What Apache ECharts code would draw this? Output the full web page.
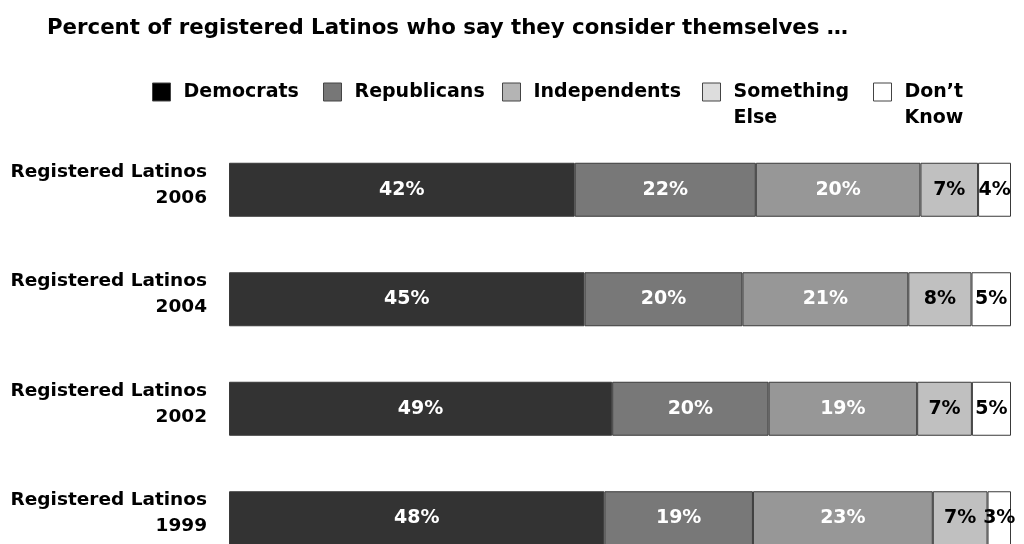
<!DOCTYPE html>
<html>
<head>
<meta charset="utf-8">
<script src="https://cdn.jsdelivr.net/npm/echarts@6/dist/echarts.min.js"></script>
<style>html,body{margin:0;padding:0;background:#fff;}#c{width:1024px;height:544px;}</style>
</head>
<body>
<div id="c"></div>
<script>
const titleText = 'Percent of registered Latinos who say they consider themselves …';
const categories = ['Registered Latinos\n2006', 'Registered Latinos\n2004', 'Registered Latinos\n2002', 'Registered Latinos\n1999'];
const seriesNames = ['Democrats', 'Republicans', 'Independents', 'Something Else', "Don't Know"];
const legendLabels = ['Democrats', 'Republicans', 'Independents', '\nSomething\nElse', '\nDon\u2019t\nKnow'];
const democrats = [42, 45, 49, 48];
const republicans = [22, 20, 20, 19];
const independents = [20, 21, 19, 23];
const somethingElse = [7, 8, 7, 7];
const dontKnow = [4, 5, 5, 3];

const raw = [democrats, republicans, independents, somethingElse, dontKnow];
const totals = categories.map((c, i) => raw.reduce((s, arr) => s + arr[i], 0));
const barColors = ['#333333', '#787878', '#979797', '#c0c0c0', '#ffffff'];
const legendColors = ['#000000', '#777777', '#b4b4b4', '#dddddd', '#ffffff'];
const labelColors = ['#ffffff', '#ffffff', '#ffffff', '#000000', '#000000'];
const legendLeft = [152, 323, 502, 702, 873];
const FONT = 'DejaVu Sans';

const chart = echarts.init(document.getElementById('c'));
chart.setOption({
  animation: false,
  backgroundColor: '#ffffff',
  title: {
    text: titleText,
    left: 47, top: 18, padding: 0,
    textStyle: { fontFamily: FONT, fontWeight: 'bold', fontSize: 21.3, color: '#000' }
  },
  legend: seriesNames.map((n, i) => ({
    left: legendLeft[i],
    top: legendLabels[i].indexOf('\n') >= 0 ? 53 : 79,
    padding: 0,
    itemWidth: 18, itemHeight: 18,
    icon: 'rect',
    selectedMode: false,
    formatter: function (name) { return legendLabels[seriesNames.indexOf(name)]; },
    textStyle: { fontFamily: FONT, fontWeight: 'bold', fontSize: 19, lineHeight: 26, color: '#000', padding: [0, 0, 0, 8] },
    data: [{ name: n, itemStyle: { color: legendColors[i], borderColor: '#444', borderWidth: 1 } }]
  })),
  grid: { left: 229, right: 13, top: 135, height: 438, outerBoundsMode: 'none' },
  xAxis: { type: 'value', min: 0, max: 100, show: false },
  yAxis: {
    type: 'category', inverse: true, data: categories,
    axisLine: { show: false }, axisTick: { show: false },
    axisLabel: {
      margin: 22, align: 'right', color: '#000',
      formatter: v => v.split('\n').map(s => '{a|' + s + '}').join('\n') + '\n{b| }',
      rich: {
        a: { fontFamily: FONT, fontWeight: 'bold', fontSize: 18.5, lineHeight: 26, color: '#000', align: 'right' },
        b: { fontSize: 1, lineHeight: 10 }
      }
    }
  },
  series: raw.map((arr, si) => ({
    name: seriesNames[si],
    type: 'bar', stack: 'all', barWidth: 54,
    itemStyle: { color: barColors[si], borderColor: '#3a3a3a', borderWidth: 1 },
    label: {
      show: true, position: 'inside',
      fontFamily: FONT, fontWeight: 'bold', fontSize: 19, color: labelColors[si],
      formatter: p => raw[si][p.dataIndex] + '%'
    },
    data: arr.map((v, i) => v / totals[i] * 100)
  }))
});
</script>
</body>
</html>
